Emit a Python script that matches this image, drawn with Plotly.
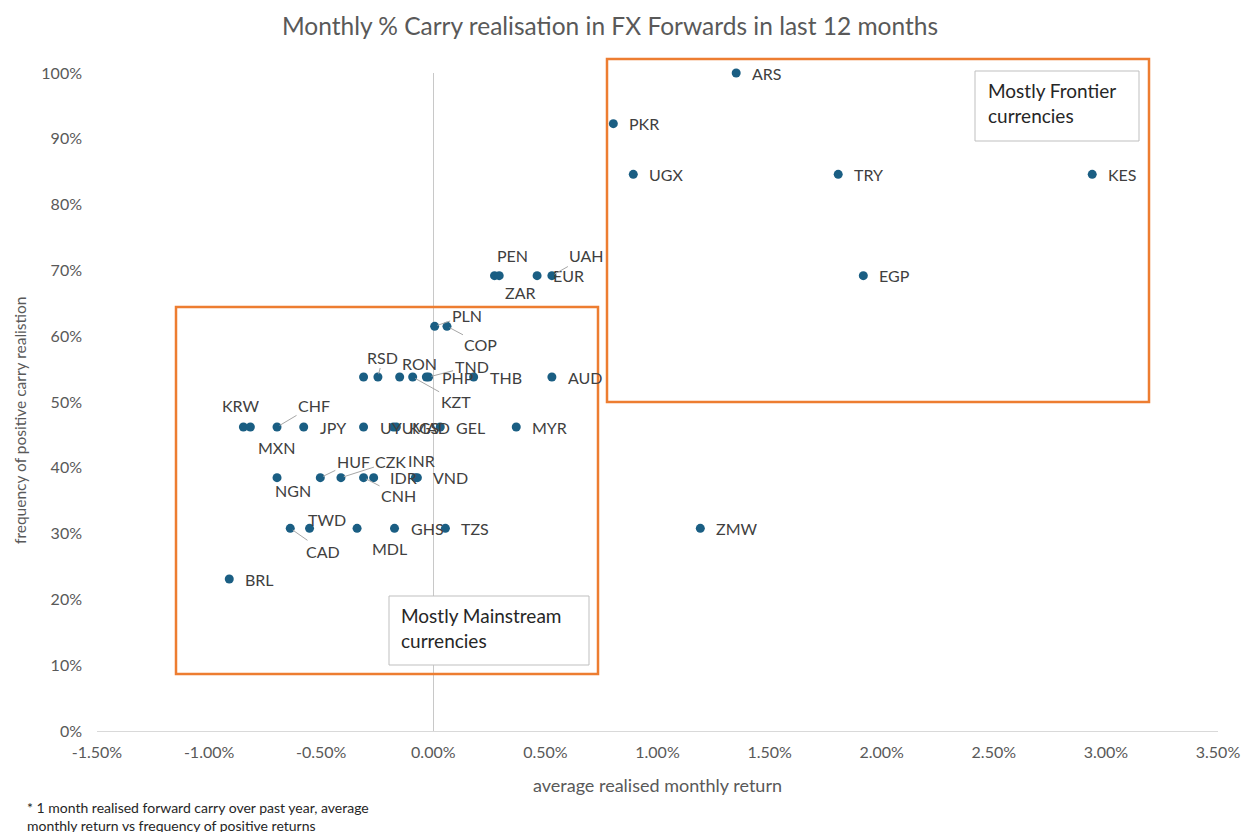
import plotly.graph_objects as go

# ---------------- data ----------------
currencies = [
    "ARS", "PKR", "UGX", "TRY", "KES",
    "PEN", "ZAR", "EUR", "UAH", "EGP",
    "PLN", "COP",
    "", "RSD", "RON", "KZT", "TND", "PHP", "THB", "AUD",
    "KRW", "MXN", "CHF", "JPY", "UYU", "KGS", "MAD", "GEL", "MYR",
    "NGN", "HUF", "CZK", "CNH", "IDR", "INR", "VND",
    "CAD", "TWD", "MDL", "GHS", "TZS", "ZMW",
    "BRL",
]
# average realised monthly return (fraction, 0.01 = 1%)
avg_monthly_return = [
    0.01351, 0.00803, 0.00892, 0.01806, 0.02939,
    0.00273, 0.00294, 0.00463, 0.00529, 0.01918,
    0.00006, 0.00061,
    -0.00311, -0.00247, -0.00150, -0.00092, -0.00021, -0.00031, 0.00180, 0.00529,
    -0.00847, -0.00816, -0.00697, -0.00578, -0.00311, -0.00178, -0.00165, 0.00031, 0.00370,
    -0.00697, -0.00504, -0.00412, -0.00311, -0.00266, -0.00080, -0.00071,
    -0.00638, -0.00552, -0.00340, -0.00173, 0.00054, 0.01191,
    -0.00910,
]
# frequency of positive carry realisation (fraction)
freq_positive = [
    1.000, 0.923, 0.846, 0.846, 0.846,
    0.692, 0.692, 0.692, 0.692, 0.692,
    0.615, 0.615,
    0.538, 0.538, 0.538, 0.538, 0.538, 0.538, 0.538, 0.538,
    0.462, 0.462, 0.462, 0.462, 0.462, 0.462, 0.462, 0.462, 0.462,
    0.385, 0.385, 0.385, 0.385, 0.385, 0.385, 0.385,
    0.308, 0.308, 0.308, 0.308, 0.308, 0.308,
    0.231,
]

x_tick_values = [-0.015, -0.010, -0.005, 0.0, 0.005, 0.010, 0.015, 0.020, 0.025, 0.030, 0.035]
x_tick_labels = ["-1.50%", "-1.00%", "-0.50%", "0.00%", "0.50%", "1.00%", "1.50%",
                 "2.00%", "2.50%", "3.00%", "3.50%"]
y_tick_values = [0.0, 0.1, 0.2, 0.3, 0.4, 0.5, 0.6, 0.7, 0.8, 0.9, 1.0]
y_tick_labels = ["0%", "10%", "20%", "30%", "40%", "50%", "60%", "70%", "80%", "90%", "100%"]

title_text = "Monthly % Carry realisation in FX Forwards in last 12 months"
x_title = "average realised monthly return"
y_title = "frequency of positive carry realistion"
footnote = "* 1 month realised forward carry over past year, average<br>monthly return vs frequency of positive returns"
frontier_note = "Mostly Frontier<br>currencies"
mainstream_note = "Mostly Mainstream<br>currencies"

# ---------------- label placement (pixel offsets, style only) ----------------
# name: (dx, dy, leader_line)  -> text centre offset from point; default is right of point
LABEL_PLACEMENT = {
    "PEN": (18, -20, False), "ZAR": (21, 17, False), "UAH": (35, -20, True),
    "PLN": (32, -11, True), "COP": (34, 18, True),
    "RSD": (5, -20, True), "RON": (20, -14, False), "TND": (43, -11, True),
    "KZT": (43, 24, True),
    "KRW": (-3, -22, False), "MXN": (26, 20, False), "CHF": (37, -22, True),
    "NGN": (16, 13, False), "HUF": (33, -16, True), "CZK": (50, -16, True),
    "INR": (6, -17, False), "CNH": (35, 18, True),
    "CAD": (33, 23, True), "TWD": (17, -9, False), "MDL": (32, 20, False),
}

FONT = "Lato, 'Open Sans', sans-serif"
LABEL_COLOR = "#404040"
AXIS_TEXT = "#595959"
MARKER_COLOR = "#1a5e83"
ORANGE = "#ED7D31"
LABEL_SIZE = 16

W, H = 1242, 832
PL, PR, PT, PB = 97, 1218, 73, 731          # plot area in page pixels
L, R, T, B = PL, W - PR, PT, H - PB


def px(xp):
    return (xp - PL) / (PR - PL)


def py(yp):
    return (PB - yp) / (PB - PT)


fig = go.Figure()
fig.add_trace(go.Scatter(
    x=avg_monthly_return, y=freq_positive, mode="markers",
    marker=dict(size=9, color=MARKER_COLOR),
    cliponaxis=False, hoverinfo="skip", showlegend=False,
))

annotations = []
for name, xv, yv in zip(currencies, avg_monthly_return, freq_positive):
    if not name:
        continue
    if name in LABEL_PLACEMENT:
        dx, dy, leader = LABEL_PLACEMENT[name]
        if leader:
            annotations.append(dict(
                x=xv, y=yv, xref="x", yref="y", text=name, showarrow=True,
                ax=dx, ay=dy, arrowhead=0, arrowwidth=1, arrowcolor="#a6a6a6",
                standoff=3, font=dict(family=FONT, size=LABEL_SIZE, color=LABEL_COLOR),
            ))
        else:
            annotations.append(dict(
                x=xv, y=yv, xref="x", yref="y", text=name, showarrow=False,
                xanchor="center", yanchor="middle", xshift=dx, yshift=-dy,
                font=dict(family=FONT, size=LABEL_SIZE, color=LABEL_COLOR),
            ))
    else:
        annotations.append(dict(
            x=xv, y=yv, xref="x", yref="y", text=name, showarrow=False,
            xanchor="left", yanchor="middle", xshift=14,
            font=dict(family=FONT, size=LABEL_SIZE, color=LABEL_COLOR),
        ))

shapes = [
    dict(type="rect", xref="paper", yref="paper", x0=px(176), x1=px(598), y0=py(674), y1=py(307),
         line=dict(color=ORANGE, width=2.5)),
    dict(type="rect", xref="paper", yref="paper", x0=px(607), x1=px(1149), y0=py(402), y1=py(59),
         line=dict(color=ORANGE, width=2.5)),
    dict(type="rect", xref="paper", yref="paper", x0=px(975), x1=px(1139), y0=py(141), y1=py(71),
         line=dict(color="#bfbfbf", width=1), fillcolor="white"),
    dict(type="rect", xref="paper", yref="paper", x0=px(389), x1=px(589), y0=py(665), y1=py(596),
         line=dict(color="#bfbfbf", width=1), fillcolor="white"),
]

annotations += [
    dict(x=px(986), y=py(77), xref="paper", yref="paper", text=frontier_note, showarrow=False,
         xanchor="left", yanchor="top", align="left",
         font=dict(family=FONT, size=19, color="#262626")),
    dict(x=px(399), y=py(602), xref="paper", yref="paper", text=mainstream_note, showarrow=False,
         xanchor="left", yanchor="top", align="left",
         font=dict(family=FONT, size=19, color="#262626")),
    dict(x=px(657), y=py(785), xref="paper", yref="paper", text=x_title, showarrow=False,
         xanchor="center", yanchor="middle", font=dict(family=FONT, size=18, color=AXIS_TEXT)),
    dict(x=px(20), y=py(421), xref="paper", yref="paper", text=y_title, showarrow=False,
         textangle=-90, xanchor="center", yanchor="middle",
         font=dict(family=FONT, size=15.5, color=AXIS_TEXT)),
    dict(x=px(25), y=py(797), xref="paper", yref="paper", text=footnote, showarrow=False,
         xanchor="left", yanchor="top", align="left",
         font=dict(family=FONT, size=14, color="#262626")),
]

fig.update_layout(
    width=W, height=H,
    margin=dict(l=L, r=R, t=T, b=B, autoexpand=False),
    paper_bgcolor="white", plot_bgcolor="white",
    title=dict(text=title_text, x=610 / W, xanchor="center",
               y=1 - 26 / H, yanchor="middle",
               xref="container", yref="container",
               font=dict(family=FONT, size=24.5, color=AXIS_TEXT)),
    xaxis=dict(range=[-0.015, 0.035], tickvals=x_tick_values, ticktext=x_tick_labels,
               showgrid=False, zeroline=True, zerolinecolor="#c8c8c8", zerolinewidth=1,
               showline=False, ticks="", ticklabelstandoff=10, automargin=False,
               tickfont=dict(family=FONT, size=16, color=AXIS_TEXT)),
    yaxis=dict(range=[0, 1], tickvals=y_tick_values, ticktext=y_tick_labels,
               showgrid=False, zeroline=True, zerolinecolor="#d9d9d9", zerolinewidth=1,
               showline=False, ticks="", ticklabelstandoff=14, automargin=False,
               tickfont=dict(family=FONT, size=16, color=AXIS_TEXT)),
    shapes=shapes,
    annotations=annotations,
)

fig.write_html(
    "out.html",
    config={"displayModeBar": False},
    post_script="document.body.style.margin='0';document.body.style.overflow='hidden';",
)
